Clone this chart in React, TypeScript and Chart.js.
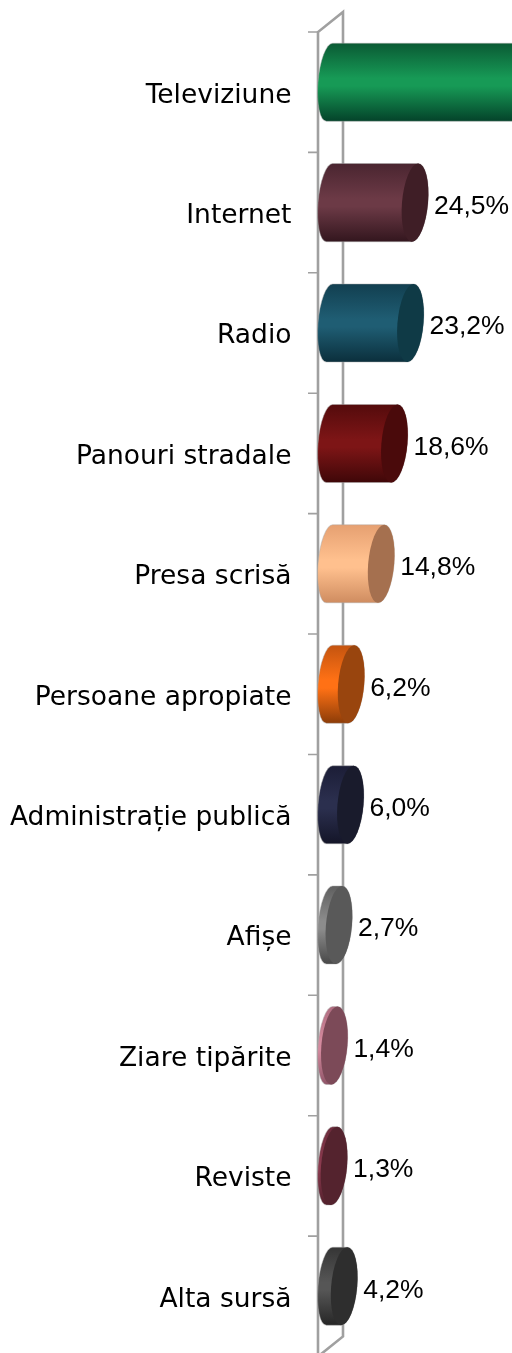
import React, { useEffect, useRef } from "react";
import { Chart, registerables } from "chart.js";

Chart.register(...registerables);

const categories = [
  "Televiziune", "Internet", "Radio", "Panouri stradale", "Presa scrisă",
  "Persoane apropiate", "Administrație publică", "Afișe", "Ziare tipărite", "Reviste", "Alta sursă",
];
const percentValues = [58.0, 24.5, 23.2, 18.6, 14.8, 6.2, 6.0, 2.7, 1.4, 1.3, 4.2];
const percentLabels = ["58,0%", "24,5%", "23,2%", "18,6%", "14,8%", "6,2%", "6,0%", "2,7%", "1,4%", "1,3%", "4,2%"];
const edgeColors = ["#0a5a34", "#4a2530", "#123f50", "#540b0c", "#e6a071", "#c4540f", "#1b1d36", "#5f5f5f", "#b06d80", "#6c2c3c", "#353535"];
const midColors = ["#179a56", "#6c3a46", "#1f5d73", "#7d1516", "#ffc08e", "#ff7115", "#2b2f4e", "#8c8c8c", "#d48a9e", "#8a3a4e", "#565656"];
const bottomColors = ["#04432a", "#33161e", "#0b2f3c", "#3f0708", "#cf8c60", "#8c3c08", "#141528", "#484848", "#905568", "#52202c", "#262626"];
const capColors = ["#0c5c36", "#3f1e26", "#0f3a46", "#4a0a0b", "#a5704f", "#99450e", "#191b2c", "#595959", "#7c4a58", "#54232e", "#2e2e2e"];

const cylinderPlugin = {
  id: "cylinders",
  beforeDatasetsDraw(chart: any) {
    const { ctx } = chart;
    const y = chart.scales.y;
    const step = y.getPixelForValue(1) - y.getPixelForValue(0);
    const top = y.getPixelForValue(0) - step / 2;
    const bottom = y.getPixelForValue(categories.length - 1) + step / 2;
    const front = 318, back = 343, depth = 10;
    ctx.save();
    ctx.strokeStyle = "#a0a0a0";
    ctx.lineWidth = 2.6;
    ctx.beginPath();
    ctx.moveTo(front, bottom + depth);
    ctx.lineTo(front, top + depth);
    ctx.lineTo(back, top - depth);
    ctx.lineTo(back, bottom - depth);
    ctx.lineTo(front, bottom + depth);
    ctx.stroke();
    ctx.lineWidth = 1.6;
    ctx.beginPath();
    for (let i = 0; i <= categories.length - 1; i++) {
      const ty = top + depth + i * step;
      ctx.moveTo(front - 10, ty);
      ctx.lineTo(front, ty);
    }
    ctx.stroke();
    ctx.restore();
  },
  beforeDatasetDraw(chart: any) {
    const { ctx } = chart;
    const meta = chart.getDatasetMeta(0);
    meta.data.forEach((bar: any, i: number) => {
      const h = bar.height;
      const t = bar.y - h / 2;
      const b = bar.y + h / 2;
      const x0 = bar.base;
      const x1 = bar.x;
      const leftRx = 11.5, capRx = 13, slant = -0.08;
      const grad = ctx.createLinearGradient(0, t, 0, b);
      grad.addColorStop(0, edgeColors[i]);
      grad.addColorStop(0.45, midColors[i]);
      grad.addColorStop(0.55, midColors[i]);
      grad.addColorStop(1, bottomColors[i]);
      ctx.save();
      ctx.translate(0, bar.y);
      ctx.transform(1, 0, slant, 1, 0, 0);
      ctx.translate(0, -bar.y);
      ctx.beginPath();
      ctx.ellipse(x0, bar.y, leftRx, h / 2, 0, Math.PI / 2, (3 * Math.PI) / 2);
      ctx.lineTo(x1, t);
      ctx.ellipse(x1, bar.y, capRx, h / 2, 0, -Math.PI / 2, Math.PI / 2);
      ctx.closePath();
      ctx.fillStyle = grad;
      ctx.fill();
      ctx.strokeStyle = "rgba(170,170,170,0.45)";
      ctx.lineWidth = 1;
      ctx.stroke();
      ctx.beginPath();
      ctx.ellipse(x1, bar.y, capRx, h / 2, 0, 0, Math.PI * 2);
      ctx.fillStyle = capColors[i];
      ctx.fill();
      ctx.restore();
      ctx.save();
      ctx.fillStyle = "#000000";
      ctx.font = '26.5px "Liberation Sans"';
      ctx.textAlign = "left";
      ctx.textBaseline = "middle";
      ctx.fillText(percentLabels[i], x1 + capRx + 6, bar.y + 4);
      ctx.restore();
    });
    return false;
  },
};

export default function App() {
  const ref = useRef<HTMLCanvasElement>(null);
  useEffect(() => {
    document.body.style.margin = "0";
    const chart = new Chart(ref.current as HTMLCanvasElement, {
      type: "bar",
      data: {
        labels: categories,
        datasets: [{
          label: "Sursa de informare",
          data: percentValues,
          backgroundColor: midColors,
          barPercentage: 0.648,
          categoryPercentage: 1,
        }],
      },
      options: {
        indexAxis: "y",
        animation: false,
        responsive: false,
        maintainAspectRatio: false,
        layout: { padding: { top: 22, bottom: 6.5, left: 0, right: 0 } },
        plugins: { legend: { display: false }, tooltip: { enabled: false } },
        scales: {
          x: { display: false, min: 0, max: 52.3 },
          y: {
            afterFit(scale: any) { scale.width = 329.5; scale.paddingTop = 0; scale.paddingBottom = 0; },
            border: { display: false },
            grid: { display: false, drawTicks: false, tickLength: 0 },
            ticks: {
              color: "#000000",
              padding: 38,
              labelOffset: 13.5,
              autoSkip: false,
              font: { family: '"DejaVu Sans"', size: 26.5 },
            },
          },
        },
      },
      plugins: [cylinderPlugin],
    } as any);
    return () => chart.destroy();
  }, []);
  return (
    <div style={{ width: 512, height: 1353, overflow: "hidden", position: "relative" }}>
      <canvas ref={ref} width={512} height={1353} style={{ display: "block", width: 512, height: 1353 }} />
    </div>
  );
}
